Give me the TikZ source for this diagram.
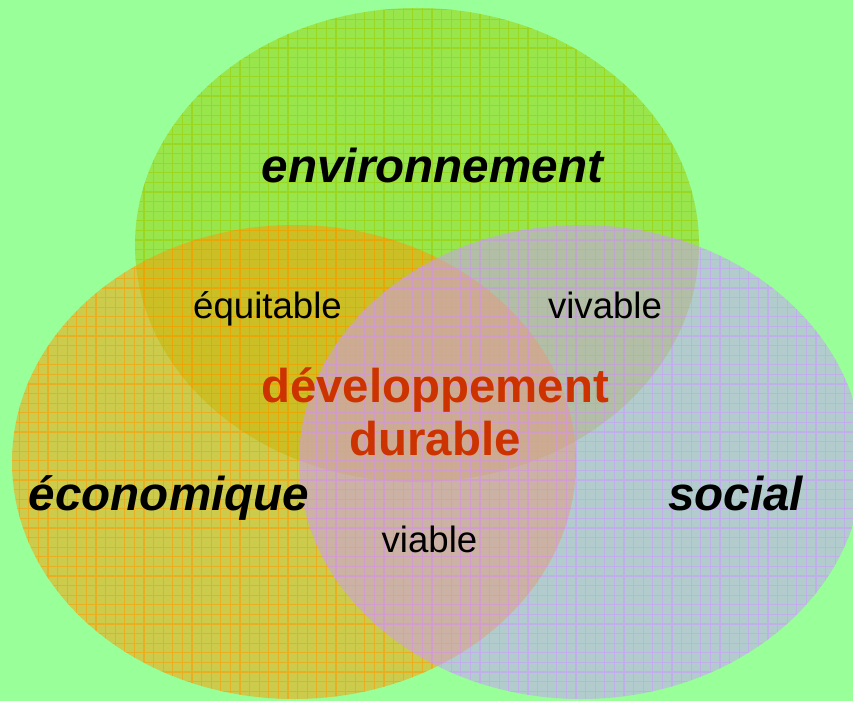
\documentclass[tikz,border=0pt]{standalone}
\usepackage{fontspec}
\setmainfont{Liberation Sans}
\usetikzlibrary{positioning}
\definecolor{bgcol}{RGB}{153,255,153}
\definecolor{envcol}{RGB}{153,204,0}
\definecolor{ecocol}{RGB}{255,153,0}
\definecolor{soccol}{RGB}{204,153,255}
\definecolor{ddred}{RGB}{204,51,0}

\begin{document}
\begin{tikzpicture}[x=1bp, y=-1bp,
    pole/.style={inner sep=0pt, anchor=base, font=\fontsize{47.6bp}{50bp}\selectfont\bfseries\itshape},
    link/.style={inner sep=0pt, anchor=base, font=\fontsize{36.6bp}{40bp}\selectfont},
    core/.style={inner sep=0pt, align=center, text=ddred, font=\fontsize{47.4bp}{53bp}\selectfont\bfseries}]
    \fill[bgcol] (0,0) rectangle (853,701);
    \useasboundingbox (0,0) rectangle (853,701);
    % the three spheres
    \foreach \cx/\cy/\col in {417/245/envcol, 294/462/ecocol, 581/462/soccol} {
        \begin{scope}
            \clip (\cx,\cy) ellipse [x radius=282bp, y radius=237bp];
            \fill[\col, opacity=0.5] (0,0) rectangle (853,701);
            \draw[\col, opacity=0.55, line width=1.2bp, step=9.6bp] (0,0) grid (853,701);
        \end{scope}
    }
    \node[pole] (env) at (432.5,182) {environnement};
    \node[pole] (eco) at (169,510) {économique};
    \node[pole] (soc) at (735.5,510) {social};
    \node[link] (equi) at (267.5,318) {équitable};
    \node[link] (viv) at (605,318) {vivable};
    \node[link] (via) at (429.5,552) {viable};
    \node[core] (dd) at (435,411.5) {développement\\durable};
\end{tikzpicture}
\end{document}
